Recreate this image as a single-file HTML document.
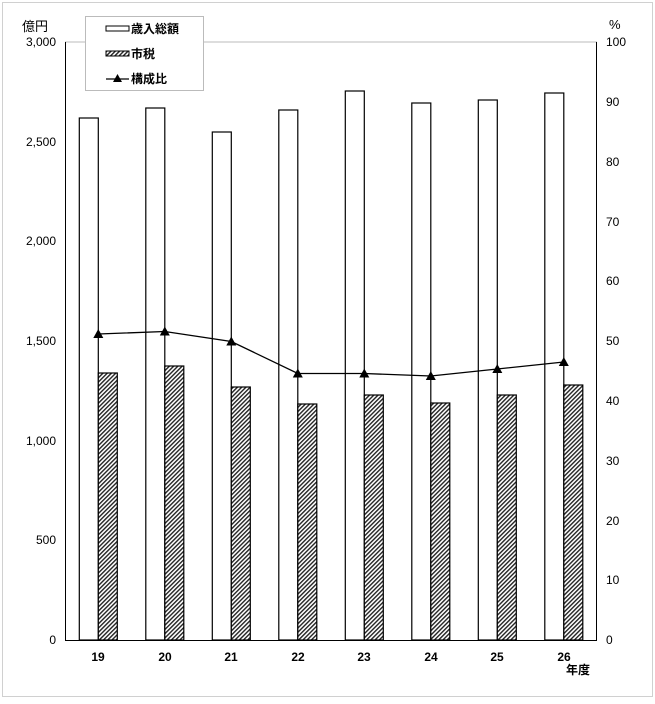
<!DOCTYPE html>
<html><head><meta charset="utf-8"><style>
body{margin:0;background:#fff;}
text{font-family:"Liberation Sans","Noto Sans CJK JP",sans-serif;font-size:12px;fill:#000;}
</style></head><body>
<svg width="655" height="699" xmlns="http://www.w3.org/2000/svg">
<defs>
<pattern id="h" width="3" height="3" patternUnits="userSpaceOnUse" patternTransform="rotate(45)">
<rect width="3" height="3" fill="#fff"/><rect width="1.4" height="3" fill="#222"/>
</pattern>
</defs>
<rect x="2.5" y="2.5" width="650" height="694" fill="#fff" stroke="#d0d0d0"/>
<line x1="65" y1="42" x2="597" y2="42" stroke="#bbb"/>
<line x1="65.5" y1="42" x2="65.5" y2="640" stroke="#000"/>
<line x1="596.5" y1="42" x2="596.5" y2="640" stroke="#000"/>
<line x1="65" y1="640.5" x2="597" y2="640.5" stroke="#000"/>
<g id="bars" stroke="#000" stroke-width="1.2">
<rect x="79.3" y="118" width="19" height="522" fill="#fff"/><rect x="98.3" y="373" width="19" height="267" fill="url(#h)"/>
<rect x="145.8" y="108" width="19" height="532" fill="#fff"/><rect x="164.8" y="366" width="19" height="274" fill="url(#h)"/>
<rect x="212.3" y="132" width="19" height="508" fill="#fff"/><rect x="231.3" y="387" width="19" height="253" fill="url(#h)"/>
<rect x="278.8" y="110" width="19" height="530" fill="#fff"/><rect x="297.8" y="404" width="19" height="236" fill="url(#h)"/>
<rect x="345.3" y="91" width="19" height="549" fill="#fff"/><rect x="364.3" y="395" width="19" height="245" fill="url(#h)"/>
<rect x="411.8" y="103" width="19" height="537" fill="#fff"/><rect x="430.8" y="403" width="19" height="237" fill="url(#h)"/>
<rect x="478.3" y="100" width="19" height="540" fill="#fff"/><rect x="497.3" y="395" width="19" height="245" fill="url(#h)"/>
<rect x="544.8" y="93" width="19" height="547" fill="#fff"/><rect x="563.8" y="385" width="19" height="255" fill="url(#h)"/>
</g>
<polyline points="98.3,334 164.8,331.5 231.3,341.5 297.8,373.5 364.3,373.5 430.8,376 497.3,369 563.8,362" fill="none" stroke="#000" stroke-width="1.3"/>
<g fill="#000">
<polygon points="98.3,329 93.3,338 103.3,338"/>
<polygon points="164.8,326.5 159.8,335.5 169.8,335.5"/>
<polygon points="231.3,336.5 226.3,345.5 236.3,345.5"/>
<polygon points="297.8,368.5 292.8,377.5 302.8,377.5"/>
<polygon points="364.3,368.5 359.3,377.5 369.3,377.5"/>
<polygon points="430.8,371 425.8,380 435.8,380"/>
<polygon points="497.3,364 492.3,373 502.3,373"/>
<polygon points="563.8,357 558.8,366 568.8,366"/>
</g>
<g text-anchor="end">
<text x="56" y="46">3,000</text><text x="56" y="146">2,500</text><text x="56" y="245">2,000</text>
<text x="56" y="345">1,500</text><text x="56" y="445">1,000</text><text x="56" y="544">500</text><text x="56" y="644">0</text>
</g>
<text x="22" y="31" style="font-size:13px">億円</text>
<g>
<text x="606" y="46">100</text><text x="606" y="106">90</text><text x="606" y="166">80</text><text x="606" y="226">70</text>
<text x="606" y="285">60</text><text x="606" y="345">50</text><text x="606" y="405">40</text><text x="606" y="465">30</text>
<text x="606" y="525">20</text><text x="606" y="584">10</text><text x="606" y="644">0</text>
</g>
<text x="609" y="29" style="font-size:13px">%</text>
<g text-anchor="middle" font-weight="bold">
<text x="98" y="661" style="font-weight:bold">19</text><text x="165" y="661" style="font-weight:bold">20</text>
<text x="231" y="661" style="font-weight:bold">21</text><text x="298" y="661" style="font-weight:bold">22</text>
<text x="364" y="661" style="font-weight:bold">23</text><text x="431" y="661" style="font-weight:bold">24</text>
<text x="497" y="661" style="font-weight:bold">25</text><text x="564" y="661" style="font-weight:bold">26</text>
</g>
<text x="566" y="674" style="font-weight:bold">年度</text>
<rect x="85.5" y="16.5" width="118" height="74" fill="#fff" stroke="#bbb"/>
<rect x="106" y="26" width="23" height="5" fill="#fff" stroke="#000"/>
<text x="131" y="33" style="font-weight:bold">歳入総額</text>
<rect x="106" y="51" width="23" height="5" fill="url(#h)" stroke="#000"/>
<text x="131" y="58" style="font-weight:bold">市税</text>
<line x1="106" y1="79" x2="129" y2="79" stroke="#000" stroke-width="1.2"/>
<polygon points="117.5,74 113,82 122,82" fill="#000"/>
<text x="131" y="83" style="font-weight:bold">構成比</text>
</svg>
</body></html>
